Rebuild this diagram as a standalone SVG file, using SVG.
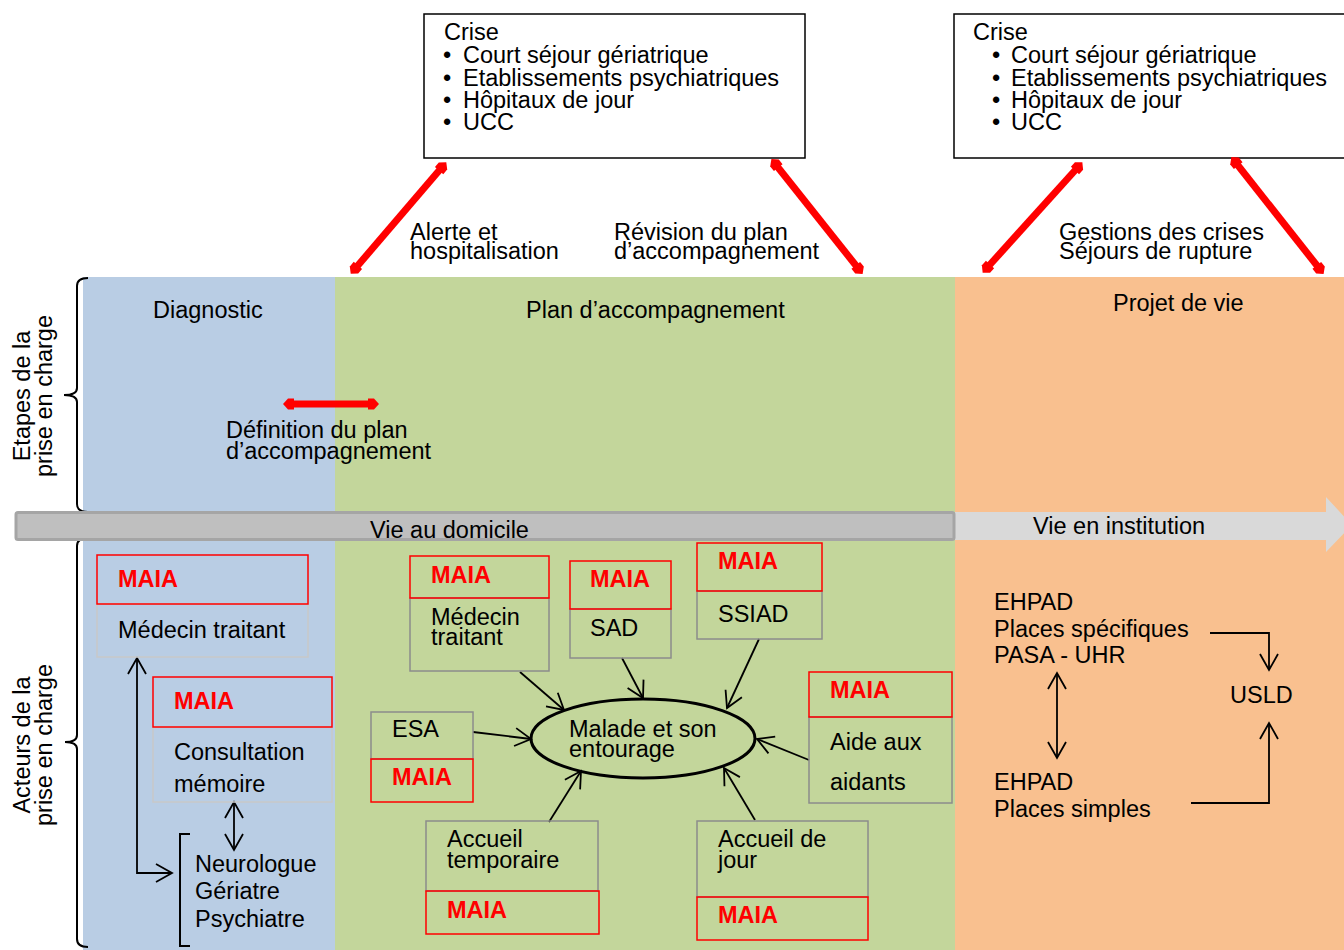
<svg xmlns="http://www.w3.org/2000/svg" width="1344" height="950" viewBox="0 0 1344 950">
<style>
.t{font-family:"Liberation Sans",Arial,sans-serif;font-size:23.5px;fill:#000}
.m{font-family:"Liberation Sans",Arial,sans-serif;font-size:23.5px;font-weight:bold;fill:#ff0000}
.rb{fill:none;stroke:#ff0000;stroke-width:1.5}
.gb{fill:none;stroke:#8c8c8c;stroke-width:1.5}
.gbl{fill:none;stroke:#c8c8c8;stroke-width:1.5}
.c{stroke:#000;stroke-width:1.8;fill:none}
.ra{stroke:#ff0000;stroke-width:7;fill:none;marker-start:url(#rh);marker-end:url(#rh)}
.br{stroke:#000;stroke-width:2;fill:none}
</style>
<defs>
<marker id="v" viewBox="-18 -11 20 22" refX="0" refY="0" markerWidth="20" markerHeight="22" markerUnits="userSpaceOnUse" orient="auto-start-reverse">
<path d="M-16,-9 L0,0 L-16,9" fill="none" stroke="#000" stroke-width="1.8"/>
</marker>
<marker id="rh" viewBox="-8 -7 14 14" refX="0" refY="0" markerWidth="14" markerHeight="14" markerUnits="userSpaceOnUse" orient="auto-start-reverse">
<path d="M5,0 L0,-5.5 L-6,-5.5 L-6,5.5 L0,5.5 Z" fill="#ff0000"/>
</marker>
</defs>
<rect width="1344" height="950" fill="#ffffff"/>

<g id="panels">
<rect x="83" y="277" width="252" height="673" fill="#b9cde4"/>
<rect x="335" y="277" width="620" height="673" fill="#c3d69b"/>
<rect x="955" y="277" width="389" height="673" fill="#f9c08f"/>
</g>

<g id="stage-titles">
<text class="t" x="153" y="318">Diagnostic</text>
<text class="t" x="526" y="318">Plan d’accompagnement</text>
<text class="t" x="1113" y="311">Projet de vie</text>
</g>

<g id="crise-1">
<rect x="424" y="14" width="381" height="144" fill="#fff" stroke="#000" stroke-width="1.5"/>
<text class="t" x="444" y="40">Crise</text>
<text class="t" y="63"><tspan x="443">•</tspan><tspan x="463">Court séjour gériatrique</tspan></text>
<text class="t" y="86"><tspan x="443">•</tspan><tspan x="463">Etablissements psychiatriques</tspan></text>
<text class="t" y="108"><tspan x="443">•</tspan><tspan x="463">Hôpitaux de jour</tspan></text>
<text class="t" y="130"><tspan x="443">•</tspan><tspan x="463">UCC</tspan></text>
</g>

<g id="crise-2">
<rect x="954" y="14" width="400" height="144" fill="#fff" stroke="#000" stroke-width="1.5"/>
<text class="t" x="973" y="40">Crise</text>
<text class="t" y="63"><tspan x="992">•</tspan><tspan x="1011">Court séjour gériatrique</tspan></text>
<text class="t" y="86"><tspan x="992">•</tspan><tspan x="1011">Etablissements psychiatriques</tspan></text>
<text class="t" y="108"><tspan x="992">•</tspan><tspan x="1011">Hôpitaux de jour</tspan></text>
<text class="t" y="130"><tspan x="992">•</tspan><tspan x="1011">UCC</tspan></text>
</g>

<g id="red-labels">
<text class="t" x="410" y="240">Alerte et</text>
<text class="t" x="410" y="259">hospitalisation</text>
<text class="t" x="614" y="240">Révision du plan</text>
<text class="t" x="614" y="259">d’accompagnement</text>
<text class="t" x="1059" y="240">Gestions des crises</text>
<text class="t" x="1059" y="259">Séjours de rupture</text>
<text class="t" x="226" y="438">Définition du plan</text>
<text class="t" x="226" y="459">d’accompagnement</text>
</g>

<g id="axis">
<path class="br" d="M88,278 Q77,278 77,286 L77,388 Q77,395 64,395 Q77,395 77,402 L77,504 Q77,512 88,512"/>
<path class="br" d="M88,538 Q77,538 77,546 L77,735 Q77,742 65,742 Q77,742 77,749 L77,939 Q77,947 88,947"/>
<text class="t" text-anchor="middle" transform="translate(30,396) rotate(-90)"><tspan x="0" y="0">Etapes de la</tspan><tspan x="0" y="22">prise en charge</tspan></text>
<text class="t" text-anchor="middle" transform="translate(30,745) rotate(-90)"><tspan x="0" y="0">Acteurs de la</tspan><tspan x="0" y="22">prise en charge</tspan></text>
</g>

<g id="timeline">
<polygon points="955,512 1326,512 1326,497 1352,525 1326,552 1326,540 955,540" fill="#d9d9d9"/>
<rect x="16" y="512.5" width="938" height="27" rx="2" fill="#bfbfbf" stroke="#a5a5a5" stroke-width="3"/>
<text class="t" x="370" y="538">Vie au domicile</text>
<text class="t" x="1033" y="534">Vie en institution</text>
</g>

<g id="connectors">
<line class="ra" x1="443" y1="166" x2="354" y2="270"/>
<line class="ra" x1="774.5" y1="163" x2="859.5" y2="270"/>
<line class="ra" x1="1079" y1="166" x2="986" y2="269"/>
<line class="ra" x1="1234.5" y1="161" x2="1320.5" y2="270"/>
<line class="ra" x1="288" y1="404" x2="374" y2="404"/>

<path class="c" d="M137,658 L137,873 L172,873" marker-start="url(#v)" marker-end="url(#v)"/>
<path class="c" d="M234,802 L234,850" marker-start="url(#v)" marker-end="url(#v)"/>

<path class="c" d="M520,672 L564,710" marker-end="url(#v)"/>
<path class="c" d="M622,658 L643,698" marker-end="url(#v)"/>
<path class="c" d="M759,639 L727,708" marker-end="url(#v)"/>
<path class="c" d="M473,732 L531,739" marker-end="url(#v)"/>
<path class="c" d="M809,760 L757,739" marker-end="url(#v)"/>
<path class="c" d="M549,822 L581,771" marker-end="url(#v)"/>
<path class="c" d="M755,820 L724,768" marker-end="url(#v)"/>

<path class="c" d="M1057,673 L1057,758" marker-start="url(#v)" marker-end="url(#v)"/>
<path class="c" d="M1210,633 L1269,633 L1269,670" marker-end="url(#v)"/>
<path class="c" d="M1191,803 L1269,803 L1269,723" marker-end="url(#v)"/>
</g>

<g id="medecin-traitant-diag">
<rect class="gbl" x="97" y="604" width="211" height="53"/>
<rect class="rb" x="97" y="555" width="211" height="49"/>
<text class="m" x="118" y="587">MAIA</text>
<text class="t" x="118" y="638">Médecin traitant</text>
</g>

<g id="consultation-memoire">
<rect class="gbl" x="153" y="727" width="179" height="75"/>
<rect class="rb" x="153" y="677" width="179" height="50"/>
<text class="m" x="174" y="709">MAIA</text>
<text class="t" x="174" y="760">Consultation</text>
<text class="t" x="174" y="792">mémoire</text>
</g>

<g id="specialistes">
<path class="br" d="M190,834 L180,834 L180,946 L190,946"/>
<text class="t" x="195" y="872">Neurologue</text>
<text class="t" x="195" y="899">Gériatre</text>
<text class="t" x="195" y="927">Psychiatre</text>
</g>

<g id="malade">
<ellipse cx="643" cy="738.5" rx="112" ry="39.5" fill="none" stroke="#000" stroke-width="3"/>
<text class="t" x="569" y="737">Malade et son</text>
<text class="t" x="569" y="757">entourage</text>
</g>

<g id="medecin-traitant">
<rect class="gb" x="410" y="598" width="139" height="73"/>
<rect class="rb" x="410" y="556" width="139" height="42"/>
<text class="m" x="431" y="583">MAIA</text>
<text class="t" x="431" y="625">Médecin</text>
<text class="t" x="431" y="645">traitant</text>
</g>

<g id="sad">
<rect class="gb" x="570" y="609" width="101" height="49"/>
<rect class="rb" x="570" y="561" width="101" height="48"/>
<text class="m" x="590" y="587">MAIA</text>
<text class="t" x="590" y="636">SAD</text>
</g>

<g id="ssiad">
<rect class="gb" x="697" y="591" width="125" height="48"/>
<rect class="rb" x="697" y="543" width="125" height="48"/>
<text class="m" x="718" y="569">MAIA</text>
<text class="t" x="718" y="622">SSIAD</text>
</g>

<g id="esa">
<rect class="gb" x="371" y="712" width="102" height="47"/>
<rect class="rb" x="371" y="759" width="102" height="43"/>
<text class="t" x="392" y="737">ESA</text>
<text class="m" x="392" y="785">MAIA</text>
</g>

<g id="aide-aidants">
<rect class="gb" x="809" y="717" width="143" height="86"/>
<rect class="rb" x="809" y="672" width="143" height="45"/>
<text class="m" x="830" y="698">MAIA</text>
<text class="t" x="830" y="750">Aide aux</text>
<text class="t" x="830" y="790">aidants</text>
</g>

<g id="accueil-temporaire">
<rect class="gb" x="426" y="821" width="172" height="70"/>
<rect class="rb" x="426" y="891" width="173" height="43"/>
<text class="t" x="447" y="847">Accueil</text>
<text class="t" x="447" y="868">temporaire</text>
<text class="m" x="447" y="918">MAIA</text>
</g>

<g id="accueil-jour">
<rect class="gb" x="697" y="821" width="171" height="76"/>
<rect class="rb" x="697" y="897" width="171" height="43"/>
<text class="t" x="718" y="847">Accueil de</text>
<text class="t" x="718" y="868">jour</text>
<text class="m" x="718" y="923">MAIA</text>
</g>

<g id="ehpad-specifiques">
<text class="t" x="994" y="610">EHPAD</text>
<text class="t" x="994" y="637">Places spécifiques</text>
<text class="t" x="994" y="663">PASA - UHR</text>
</g>

<g id="ehpad-simples">
<text class="t" x="994" y="790">EHPAD</text>
<text class="t" x="994" y="817">Places simples</text>
</g>

<g id="usld">
<text class="t" x="1230" y="703">USLD</text>
</g>
</svg>
